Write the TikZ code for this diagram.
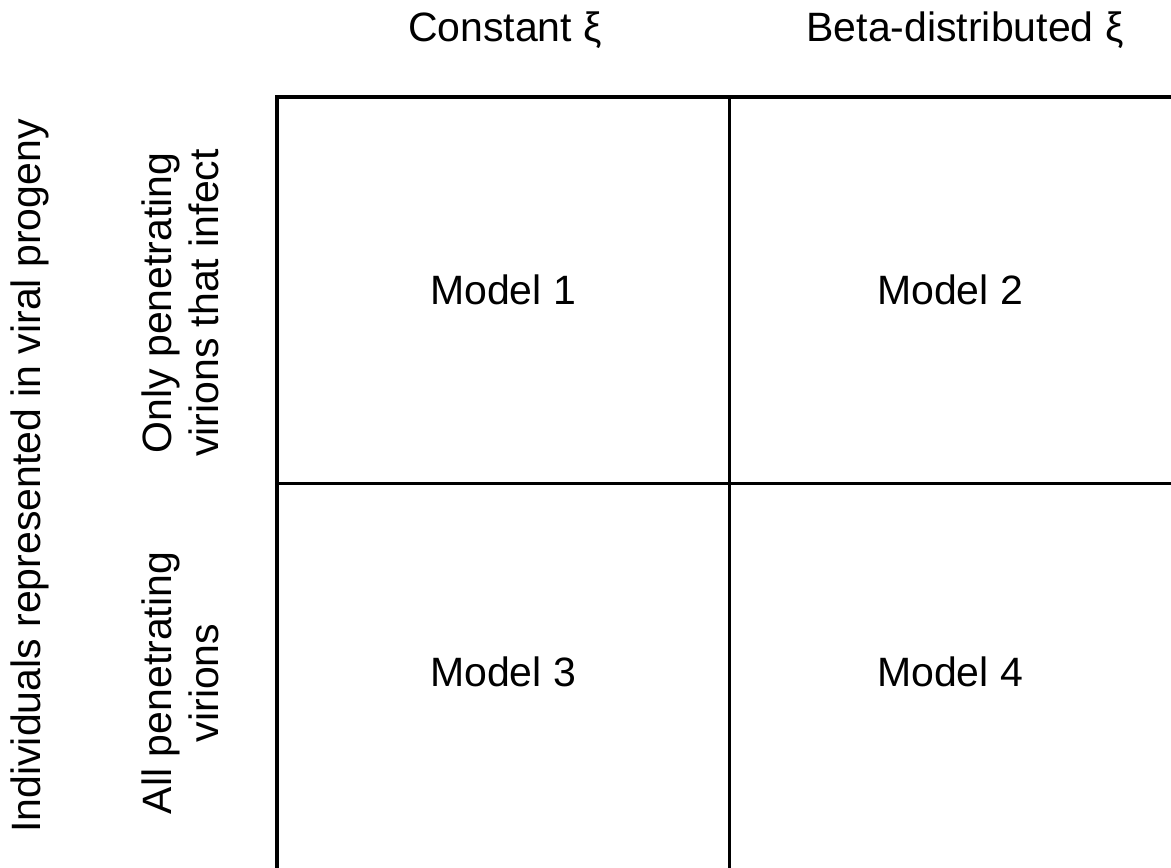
\documentclass[tikz,border=0pt]{standalone}
\usepackage{fontspec}
\setmainfont{Liberation Sans}
\begin{document}
\begin{tikzpicture}[x=1pt,y=-1pt,
  lbl/.style={font=\fontsize{41}{47}\selectfont, align=center, inner sep=0pt},
  gridline/.style={line width=3.6pt, line cap=rect}]
\useasboundingbox (0,0) rectangle (1171,868);
% grid
\draw[gridline] (1180,97) -- (277,97) -- (277,880);
\draw[gridline] (729.5,97) -- (729.5,880);
\draw[gridline] (277,483.5) -- (1180,483.5);
% column headers
\node[lbl] (c1) at (505,30) {Constant ξ};
\node[lbl] (c2) at (965,30) {Beta-distributed ξ};
% row headers
\node[lbl, rotate=90] (ytitle) at (30,476) {Individuals represented in viral progeny};
\node[lbl, rotate=90] (r1) at (180,303) {Only penetrating\\virions that infect};
\node[lbl, rotate=90] (r2) at (180,683) {All penetrating\\virions};
% cells
\node[lbl] (m1) at (503,290) {Model 1};
\node[lbl] (m2) at (950,290) {Model 2};
\node[lbl] (m3) at (503,672) {Model 3};
\node[lbl] (m4) at (950,672) {Model 4};
\end{tikzpicture}
\end{document}
